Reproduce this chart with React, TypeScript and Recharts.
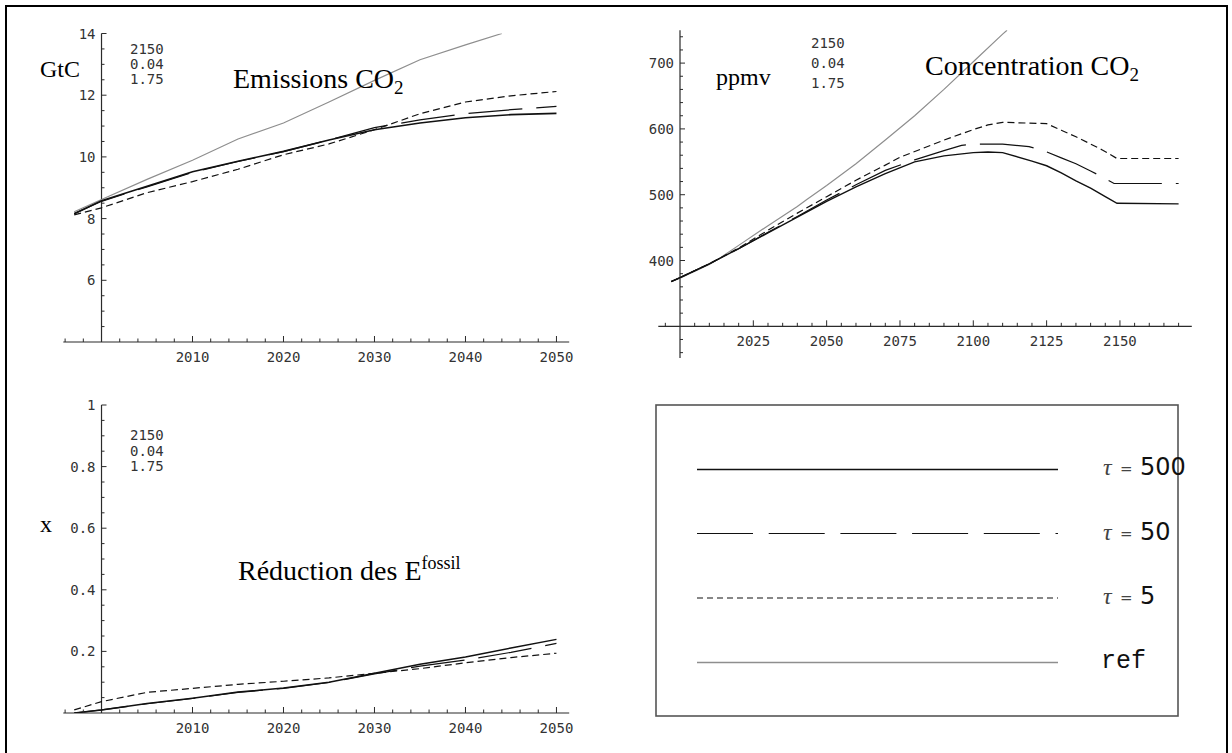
import React from "react";
import { Line, LineChart, ReferenceDot, ReferenceLine, XAxis, YAxis } from "recharts";

// ---- Emissions CO2 (GtC) ----
const emYears = [1997, 2000, 2005, 2010, 2015, 2020, 2025, 2030, 2035, 2040, 2045, 2050];
const emTau500 = [8.16, 8.58, 9.05, 9.52, 9.86, 10.18, 10.55, 10.88, 11.1, 11.27, 11.37, 11.41];
const emTau50 = [8.16, 8.56, 9.03, 9.5, 9.85, 10.17, 10.55, 10.95, 11.2, 11.4, 11.53, 11.64];
const emTau5 = [8.12, 8.35, 8.84, 9.2, 9.6, 10.07, 10.42, 10.88, 11.4, 11.78, 11.98, 12.12];
const emRefYears = [1997, 2000, 2005, 2010, 2015, 2020, 2025, 2030, 2035, 2040, 2044];
const emRef = [8.22, 8.62, 9.27, 9.89, 10.58, 11.1, 11.78, 12.48, 13.15, 13.63, 14.0];

// ---- Concentration CO2 (ppmv) ----
const coTau500Years = [1997, 2000, 2010, 2020, 2030, 2040, 2050, 2060, 2070, 2080, 2090, 2100, 2105, 2110, 2120, 2125, 2130, 2135, 2140, 2145, 2149, 2170];
const coTau500 = [368, 374, 395, 418, 442, 466, 490, 512, 532, 550, 559, 564, 565, 564, 551, 544, 533, 521, 510, 497, 487, 486];
const coTau50Years = [1997, 2000, 2010, 2020, 2030, 2040, 2050, 2060, 2070, 2080, 2090, 2096, 2100, 2110, 2119, 2124, 2130, 2135, 2140, 2144, 2148, 2170];
const coTau50 = [368, 374, 395, 418, 443, 467, 492, 515, 537, 553, 567, 575, 577, 577, 573, 567, 556, 547, 536, 527, 517, 517];
const coTau5Years = [1997, 2000, 2010, 2020, 2030, 2040, 2050, 2060, 2070, 2075, 2082, 2090, 2100, 2105, 2110, 2125, 2130, 2135, 2140, 2144, 2149, 2170];
const coTau5 = [368, 374, 395, 419, 446, 472, 497, 522, 545, 557, 569, 583, 599, 606, 610, 608, 598, 588, 577, 568, 555, 555];
const coRefYears = [1997, 2000, 2010, 2014, 2020, 2030, 2040, 2043, 2050, 2060, 2070, 2080, 2090, 2100, 2110, 2111.5];
const coRef = [368, 373, 394, 405, 423, 453, 482, 492, 514, 547, 583, 620, 660, 702, 744, 750];

// ---- Réduction des E fossil (x) ----
const rdYears = [1997, 2000, 2005, 2010, 2015, 2020, 2025, 2030, 2035, 2040, 2045, 2050];
const rdTau500 = [0.0, 0.01, 0.031, 0.048, 0.068, 0.081, 0.1, 0.129, 0.158, 0.182, 0.211, 0.239];
const rdTau50 = [0.0, 0.01, 0.03, 0.047, 0.067, 0.08, 0.099, 0.127, 0.152, 0.172, 0.197, 0.226];
const rdTau5 = [0.01, 0.037, 0.067, 0.08, 0.093, 0.103, 0.114, 0.129, 0.144, 0.163, 0.18, 0.194];

const params = ["2150", "0.04", "1.75"];

const W = 1232;
const H = 753;
const AXIS = "#2b2b2b";
const REF = "#8e8e8e";
const MONO = "'DejaVu Sans Mono', monospace";
const SANS = "'DejaVu Sans', sans-serif";
const SERIF = "'Liberation Serif', 'Times New Roman', serif";

const pts = (xs: number[], ys: number[]) => xs.map((x, i) => ({ x, y: ys[i] }));

type Tick = { v: number; major: boolean; label?: string };

function makeTicks(from: number, to: number, step: number, skip: number, isMajor: (v: number) => boolean, fmt: (v: number) => string): Tick[] {
  const out: Tick[] = [];
  const n = Math.round((to - from) / step);
  for (let i = 0; i <= n; i++) {
    const v = Math.round((from + i * step) * 1000) / 1000;
    if (Math.abs(v - skip) < 1e-9) continue;
    const major = isMajor(v);
    out.push({ v, major, label: major ? fmt(v) : undefined });
  }
  return out;
}

const yearTicks = makeTicks(1996, 2050, 2, 2000, (v) => v % 10 === 0, (v) => String(v));
const coXTicks = makeTicks(1995, 2170, 5, 2000, (v) => v % 25 === 0, (v) => String(v));

type Series = { data: { x: number; y: number }[]; color: string; width: number; dash?: string };

type PanelProps = {
  xDomain: [number, number];
  yDomain: [number, number];
  box: { left: number; right: number; top: number; bottom: number };
  xOrigin: number;
  yOrigin: number;
  xTicks: Tick[];
  yTicks: Tick[];
  series: Series[];
};

function Panel({ xDomain, yDomain, box, xOrigin, yOrigin, xTicks, yTicks, series }: PanelProps) {
  const labelStyle = { fontFamily: MONO, fontSize: 14, fill: "#333" };
  return (
    <div style={{ position: "absolute", left: 0, top: 0 }}>
      <LineChart
        width={W}
        height={H}
        margin={{ left: box.left, right: W - box.right, top: box.top, bottom: H - box.bottom }}
      >
        <XAxis type="number" dataKey="x" domain={xDomain} hide allowDataOverflow />
        <YAxis type="number" dataKey="y" domain={yDomain} hide allowDataOverflow />
        <ReferenceLine
          segment={[{ x: xDomain[0], y: yOrigin }, { x: xDomain[1], y: yOrigin }]}
          stroke={AXIS}
          strokeWidth={1.2}
          ifOverflow="visible"
        />
        <ReferenceLine
          segment={[{ x: xOrigin, y: yDomain[0] }, { x: xOrigin, y: yDomain[1] }]}
          stroke={AXIS}
          strokeWidth={1.2}
          ifOverflow="visible"
        />
        {xTicks.map((t) => (
          <ReferenceDot
            key={"x" + t.v}
            x={t.v}
            y={yOrigin}
            r={0}
            ifOverflow="visible"
            shape={(p: any) => (
              <g>
                <line x1={p.cx} y1={p.cy} x2={p.cx} y2={p.cy - (t.major ? 6 : 3.5)} stroke={AXIS} strokeWidth={1} />
                {t.label && (
                  <text x={p.cx} y={p.cy + 20} textAnchor="middle" style={labelStyle}>
                    {t.label}
                  </text>
                )}
              </g>
            )}
          />
        ))}
        {yTicks.map((t) => (
          <ReferenceDot
            key={"y" + t.v}
            x={xOrigin}
            y={t.v}
            r={0}
            ifOverflow="visible"
            shape={(p: any) => (
              <g>
                <line x1={p.cx} y1={p.cy} x2={p.cx + (t.major ? 5 : 3)} y2={p.cy} stroke={AXIS} strokeWidth={1} />
                {t.label && (
                  <text x={p.cx - 6} y={p.cy + 5} textAnchor="end" style={labelStyle}>
                    {t.label}
                  </text>
                )}
              </g>
            )}
          />
        ))}
        {series.map((s, i) => (
          <Line
            key={i}
            data={s.data}
            dataKey="y"
            type="linear"
            stroke={s.color}
            strokeWidth={s.width}
            strokeDasharray={s.dash}
            dot={false}
            activeDot={false}
            isAnimationActive={false}
          />
        ))}
      </LineChart>
    </div>
  );
}

const black = "#111";
const dashLong = "54 14";
const dashShort = "7 4";

export default function App() {
  const tx = { fontFamily: MONO, fontSize: 14, fill: "#333" } as const;
  const serif = { fontFamily: SERIF, fill: "#000" } as const;
  return (
    <div style={{ position: "absolute", left: 0, top: 0, width: W, height: H, background: "#fff", overflow: "hidden" }}>
      <div
        style={{
          position: "absolute",
          left: 5,
          top: 5,
          width: 1223,
          height: 760,
          border: "2px solid #000",
          boxSizing: "border-box",
        }}
      />

      {/* Emissions CO2 */}
      <Panel
        xDomain={[1995.8, 2051.4]}
        yDomain={[4, 14]}
        box={{ left: 63.3, right: 569.2, top: 33.5, bottom: 342 }}
        xOrigin={2000}
        yOrigin={4}
        xTicks={yearTicks}
        yTicks={makeTicks(4.5, 14, 0.5, 4, (v) => v % 2 === 0, (v) => String(v))}
        series={[
          { data: pts(emRefYears, emRef), color: REF, width: 1.2 },
          { data: pts(emYears, emTau5), color: black, width: 1.2, dash: dashShort },
          { data: pts(emYears, emTau50), color: black, width: 1.2, dash: dashLong },
          { data: pts(emYears, emTau500), color: black, width: 1.6 },
        ]}
      />

      {/* Concentration CO2 */}
      <Panel
        xDomain={[1992.6, 2174.5]}
        yDomain={[252, 750]}
        box={{ left: 658.3, right: 1191.8, top: 30.2, bottom: 357.9 }}
        xOrigin={2000}
        yOrigin={300}
        xTicks={coXTicks}
        yTicks={makeTicks(260, 740, 20, 300, (v) => v % 100 === 0, (v) => String(v))}
        series={[
          { data: pts(coRefYears, coRef), color: REF, width: 1.2 },
          { data: pts(coTau5Years, coTau5), color: black, width: 1.2, dash: dashShort },
          { data: pts(coTau50Years, coTau50), color: black, width: 1.2, dash: dashLong },
          { data: pts(coTau500Years, coTau500), color: black, width: 1.4 },
        ]}
      />

      {/* Réduction des E fossil */}
      <Panel
        xDomain={[1995.8, 2051.4]}
        yDomain={[0, 1]}
        box={{ left: 63.3, right: 569.2, top: 405, bottom: 713 }}
        xOrigin={2000}
        yOrigin={0}
        xTicks={yearTicks}
        yTicks={makeTicks(0.05, 1, 0.05, 0, (v) => Math.round(v * 100) % 20 === 0, (v) => String(v))}
        series={[
          { data: pts(rdYears, rdTau5), color: black, width: 1.2, dash: dashShort },
          { data: pts(rdYears, rdTau50), color: black, width: 1.2, dash: dashLong },
          { data: pts(rdYears, rdTau500), color: black, width: 1.5 },
        ]}
      />

      <svg width={W} height={H} style={{ position: "absolute", left: 0, top: 0, pointerEvents: "none" }}>
        {/* annotations */}
        {params.map((p, i) => (
          <text key={"a" + i} x={130} y={54 + i * 15} style={tx}>{p}</text>
        ))}
        {params.map((p, i) => (
          <text key={"b" + i} x={811} y={48 + i * 20} style={tx}>{p}</text>
        ))}
        {params.map((p, i) => (
          <text key={"c" + i} x={130} y={440 + i * 15.5} style={tx}>{p}</text>
        ))}

        <text x={40} y={77} style={{ ...serif, fontSize: 24 }}>GtC</text>
        <text x={716} y={85} style={{ ...serif, fontSize: 24 }}>ppmv</text>
        <text x={40} y={532} style={{ ...serif, fontSize: 24 }}>x</text>

        <text x={233} y={88} style={{ ...serif, fontSize: 28 }}>
          Emissions CO<tspan fontSize={19} dy={6}>2</tspan>
        </text>
        <text x={925} y={75} style={{ ...serif, fontSize: 28 }}>
          Concentration CO<tspan fontSize={19} dy={6}>2</tspan>
        </text>
        <text x={238} y={580} style={{ ...serif, fontSize: 28 }}>
          Réduction des E<tspan fontSize={18} dy={-11}>fossil</tspan>
        </text>

        {/* legend */}
        <rect x={656} y={405} width={522} height={311} fill="none" stroke="#555" strokeWidth={1.6} />
        <line x1={697} y1={469.5} x2={1058} y2={469.5} stroke={black} strokeWidth={1.3} />
        <line x1={697} y1={533.5} x2={1058} y2={533.5} stroke={black} strokeWidth={1.2} strokeDasharray="56 15.7" />
        <line x1={697} y1={598} x2={1058} y2={598} stroke={black} strokeWidth={1.1} strokeDasharray="6 4" />
        <line x1={697} y1={662.5} x2={1058} y2={662.5} stroke={REF} strokeWidth={1.5} />

        {[
          { y: 475, v: "500" },
          { y: 540, v: "50" },
          { y: 604, v: "5" },
        ].map((l) => (
          <g key={l.v}>
            <text x={1103} y={l.y} style={{ fontFamily: SERIF, fontStyle: "italic", fontSize: 24, fill: "#444" }}>τ</text>
            <text x={1120} y={l.y - 1} style={{ fontFamily: SANS, fontSize: 15, fill: "#444" }}>=</text>
            <text x={1140} y={l.y} style={{ fontFamily: SANS, fontSize: 24, fill: "#111" }}>{l.v}</text>
          </g>
        ))}
        <text x={1101} y={668} style={{ fontFamily: "'Liberation Mono', monospace", fontSize: 25, fill: "#111" }}>ref</text>
      </svg>
    </div>
  );
}
